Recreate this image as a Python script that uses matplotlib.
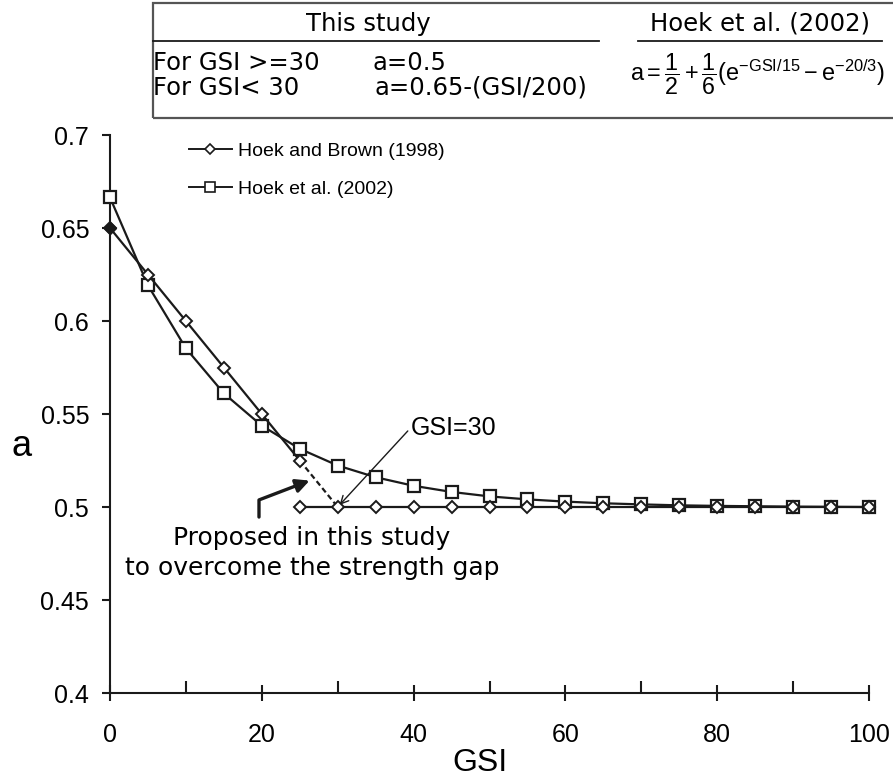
import matplotlib
matplotlib.use("Agg")
import matplotlib.pyplot as plt
from matplotlib.lines import Line2D
from matplotlib.patches import Rectangle, FancyArrowPatch
from matplotlib.path import Path

plt.rcParams['font.family'] = ['Liberation Sans', 'DejaVu Sans']
plt.rcParams['mathtext.fontset'] = 'custom'
plt.rcParams['mathtext.rm'] = 'Liberation Sans'
plt.rcParams['mathtext.it'] = 'Liberation Sans'
plt.rcParams['mathtext.default'] = 'regular'

# GSI values
gsi_low = [0, 5, 10, 15, 20, 25]
gsi_high = [25, 30, 35, 40, 45, 50, 55, 60, 65, 70, 75, 80, 85, 90, 95, 100]
gsi_all = [0, 5, 10, 15, 20, 25, 30, 35, 40, 45, 50, 55, 60, 65, 70, 75, 80, 85, 90, 95, 100]

# Hoek and Brown (1998)
a_hb_low = [0.65, 0.625, 0.60, 0.575, 0.55, 0.525]
a_hb_high = [0.5] * 16

# Hoek et al. (2002)
a_hoek2002 = [0.6664, 0.6192, 0.5853, 0.5611, 0.5437, 0.5313, 0.5223, 0.5160,
              0.5114, 0.5081, 0.5057, 0.5041, 0.5029, 0.5020, 0.5014, 0.5009,
              0.5006, 0.5004, 0.5002, 0.5001, 0.5000]

ytick_vals = [0.4, 0.45, 0.5, 0.55, 0.6, 0.65, 0.7]
ytick_text = ['0.4', '0.45', '0.5', '0.55', '0.6', '0.65', '0.7']

W, H = 893, 782
fig = plt.figure(figsize=(W / 100, H / 100), dpi=100)
ax = fig.add_axes([110 / W, 1 - 693 / H, 759 / W, 558 / H])


def fx(px):
    return px / W


def fy(py):
    return 1 - py / H


ink = '#1a1a1a'
lw = 1.6
ax.plot(gsi_all, a_hoek2002, color=ink, lw=lw, marker='s', ms=8,
        mfc='white', mec=ink, mew=1.6, zorder=3, clip_on=False)
ax.plot(gsi_low, a_hb_low, color=ink, lw=lw, marker='D', ms=6.5,
        mfc='white', mec=ink, mew=1.4, zorder=4, clip_on=False)
ax.plot(gsi_high, a_hb_high, color=ink, lw=lw, marker='D', ms=6.5,
        mfc='white', mec=ink, mew=1.4, zorder=4, clip_on=False)
ax.plot([gsi_low[0]], [a_hb_low[0]], marker='D', ms=6.5, color=ink, zorder=5,
        clip_on=False)
# dashed link between the two branches
ax.plot([gsi_low[-1], gsi_high[1]], [a_hb_low[-1], a_hb_high[1]], color=ink,
        lw=1.6, ls=(0, (2.5, 1.5)), zorder=2)

ax.set_xlim(0, 100)
ax.set_ylim(0.4, 0.7)
ax.set_xticks([0, 20, 40, 60, 80, 100])
ax.set_xticks([10, 30, 50, 70, 90], minor=True)
ax.set_yticks(ytick_vals)
ax.set_yticklabels(ytick_text)
for sp in ['top', 'right']:
    ax.spines[sp].set_visible(False)
for sp in ['left', 'bottom']:
    ax.spines[sp].set_linewidth(1.5)
    ax.spines[sp].set_color(ink)
ax.tick_params(axis='x', which='major', direction='inout', length=11, width=1.5,
               labelsize=18, pad=16, color=ink, labelcolor='black')
ax.tick_params(axis='x', which='minor', direction='in', length=8.5, width=1.5,
               color=ink)
ax.tick_params(axis='y', direction='out', length=6, width=1.5, labelsize=18,
               pad=9, color=ink, labelcolor='black')

fig.text(fx(22), fy(447), 'a', fontsize=26, ha='center', va='center')
fig.text(fx(480), fy(763), 'GSI', fontsize=23, ha='center', va='center')

# legend
handles = [
    Line2D([], [], color=ink, lw=1.4, marker='D', ms=5.5, mfc='white', mew=1.2),
    Line2D([], [], color=ink, lw=1.4, marker='s', ms=6.5, mfc='white', mew=1.2),
]
ax.legend(handles, ['Hoek and Brown (1998)', 'Hoek et al. (2002)'],
          loc='upper left', bbox_to_anchor=(fx(189), fy(142)),
          bbox_transform=fig.transFigure, frameon=False, fontsize=14,
          handlelength=2.2, handletextpad=0.3, labelspacing=1.05,
          borderaxespad=0, borderpad=0)

# annotations
ax.annotate('GSI=30', xy=(30, 0.5), xytext=(39.6, 0.5425), fontsize=18,
            va='center', ha='left',
            arrowprops=dict(arrowstyle='->', lw=1.0, color=ink,
                            shrinkA=0, shrinkB=2, mutation_scale=14,
                            relpos=(0, 0.5)))

arrow_path = Path([(19.63, 0.4946), (19.63, 0.5038), (26.3, 0.5142)],
                  [Path.MOVETO, Path.LINETO, Path.LINETO])
ax.add_patch(FancyArrowPatch(path=arrow_path, arrowstyle='-|>', lw=2.4,
                             color=ink, mutation_scale=20, clip_on=False))
wide = ['DejaVu Sans']
ax.text(26.6, 0.4835, 'Proposed in this study', fontsize=18, ha='center',
        va='center', family=wide)
ax.text(26.6, 0.4672, 'to overcome the strength gap', fontsize=18, ha='center',
        va='center', family=wide)

# equation box at the top
fig.add_artist(Rectangle((fx(153), fy(118)), fx(760), fy(3) - fy(118),
                         transform=fig.transFigure, fill=False, ec='#555555', lw=1.6))
fig.add_artist(Line2D([fx(153), fx(599)], [fy(41), fy(41)], color=ink, lw=1.3))
fig.add_artist(Line2D([fx(638), fx(882)], [fy(41), fy(41)], color=ink, lw=1.3))

fig.text(fx(368), fy(24), 'This study', fontsize=17.5, ha='center', va='center',
         family=wide)
fig.text(fx(760), fy(23), 'Hoek et al. (2002)', fontsize=17.5, ha='center',
         va='center', family=wide)
fig.text(fx(153), fy(63), 'For GSI >=30', fontsize=17.5, ha='left', va='center',
         family=wide)
fig.text(fx(372), fy(63), 'a=0.5', fontsize=17.5, ha='left', va='center',
         family=wide)
fig.text(fx(153), fy(88), 'For GSI< 30', fontsize=17.5, ha='left', va='center',
         family=wide)
fig.text(fx(375), fy(88), 'a=0.65-(GSI/200)', fontsize=17.5, ha='left',
         va='center', family=wide)
fig.text(fx(630), fy(74),
         r'$a=\dfrac{1}{2}+\dfrac{1}{6}(e^{-GSI/15}-e^{-20/3})$',
         fontsize=16.8, ha='left', va='center')

fig.savefig('out.png', dpi=100)
